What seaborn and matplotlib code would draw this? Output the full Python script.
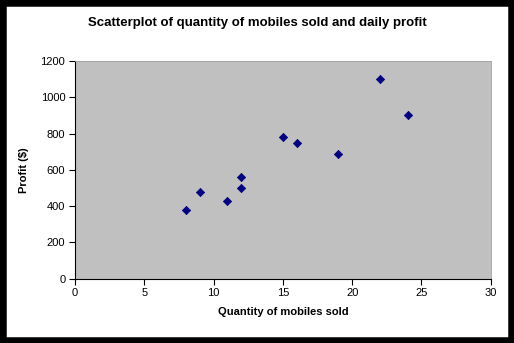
import matplotlib
matplotlib.use("Agg")
import matplotlib.pyplot as plt
import seaborn as sns
import pandas as pd
from matplotlib.patches import Rectangle

quantity = [8, 9, 11, 12, 12, 15, 16, 19, 22, 24]
profit = [380, 480, 430, 500, 560, 780, 750, 690, 1100, 900]
x_ticks = [0, 5, 10, 15, 20, 25, 30]
y_ticks = [0, 200, 400, 600, 800, 1000, 1200]

df = pd.DataFrame({"Quantity": quantity, "Profit": profit})

sns.set_theme(style="white")
plt.rcParams["font.family"] = ["Liberation Sans", "DejaVu Sans"]
plt.rcParams["text.color"] = "black"
plt.rcParams["axes.labelcolor"] = "black"

fig = plt.figure(figsize=(5.14, 3.43), dpi=100)
fig.patch.set_facecolor("white")
ax = fig.add_axes([75 / 514, 1 - 278.7 / 343, (490.7 - 75) / 514, (278.7 - 61) / 343])
ax.set_facecolor("#C0C0C0")

sns.scatterplot(data=df, x="Quantity", y="Profit", ax=ax, marker="D", s=18,
                color="#000080", edgecolor="#000080", linewidth=0.5, legend=False)

ax.set_xlim(0, 30)
ax.set_ylim(0, 1200)
ax.set_xticks(x_ticks)
ax.set_yticks(y_ticks)
ax.tick_params(axis="both", direction="out", length=4, width=0.8, color="black",
               labelsize=8, labelcolor="black", bottom=True, left=True, pad=3)
for s in ["left", "bottom"]:
    ax.spines[s].set_color("black")
    ax.spines[s].set_linewidth(0.8)
for s in ["top", "right"]:
    ax.spines[s].set_color("#A0A0A0")
    ax.spines[s].set_linewidth(0.6)

ax.set_xlabel("Quantity of mobiles sold", fontsize=8, fontweight="bold", labelpad=6, color="black")
ax.set_ylabel("Profit ($)", fontsize=8, fontweight="bold", labelpad=8, color="black")
fig.text(0.5, 1 - 23 / 343, "Scatterplot of quantity of mobiles sold and daily profit",
         ha="center", va="center", fontsize=9.5, fontweight="bold", color="black")

fig.patches.append(Rectangle((0, 0), 1, 1, transform=fig.transFigure, fill=False,
                             edgecolor="black", linewidth=9, zorder=10))

fig.savefig("out.png", dpi=100)
